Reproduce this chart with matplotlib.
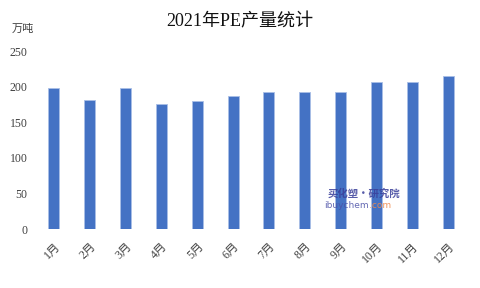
#!/usr/bin/env python3

import matplotlib
matplotlib.use('Agg')
import matplotlib.pyplot as plt

months = ['1月', '2月', '3月', '4月', '5月', '6月',
          '7月', '8月', '9月', '10月', '11月', '12月']
output = [198, 181, 198, 176, 180, 187, 193, 192, 193, 206, 207, 215]
yticks = [0, 50, 100, 150, 200, 250]

MIXED = ['Liberation Serif', 'Noto Sans CJK SC']


def plot_output():
    fig = plt.figure(figsize=(4.8, 2.88), dpi=100)
    ax = fig.add_axes([36/480, 1 - 229/288, 430/480, 178/288])

    x = range(len(months))
    ax.bar(x, output, width=0.31, color='#4472c4',
           edgecolor='#a9bfe6', linewidth=0.6)

    ax.set_xlim(-0.5, len(months) - 0.5)
    ax.set_ylim(0, 250)
    ax.set_yticks(yticks)
    ax.set_yticklabels([str(v) for v in yticks], family=MIXED,
                       fontsize=8.5, color='#404040')
    ax.set_xticks(list(x))
    ax.set_xticklabels(months, family=MIXED, fontsize=8.5, color='#404040',
                       rotation=45, ha='right', rotation_mode='anchor')
    ax.tick_params(axis='both', length=0, pad=6)
    ax.tick_params(axis='x', pad=8)

    for s in ax.spines.values():
        s.set_visible(False)

    fig.text(0.5, 1 - 22/288, '2021年PE产量统计', family=MIXED,
             fontsize=13, ha='center', va='center', color='#111111')
    fig.text(12/480, 1 - 29/288, '万吨', family=MIXED,
             fontsize=8, ha='left', va='center', color='#404040')

    # watermark
    fig.text(364/480, 1 - 194/288, '买化塑·研究院', family=['Noto Sans CJK SC'],
             fontsize=7.5, weight='bold', style='italic', color='#3a3f9a',
             ha='center', va='center', alpha=0.85)
    fig.text(369/480, 1 - 206/288, 'ibuychem', family=['DejaVu Sans'],
             fontsize=6.5, color='#4a4fa6', ha='right', va='center', alpha=0.85)
    fig.text(369/480, 1 - 206/288, '.com', family=['DejaVu Sans'],
             fontsize=6.5, color='#f08a4b', ha='left', va='center', alpha=0.9)

    fig.savefig('out.png', dpi=100)
    return fig


if __name__ == '__main__':
    plot_output()
